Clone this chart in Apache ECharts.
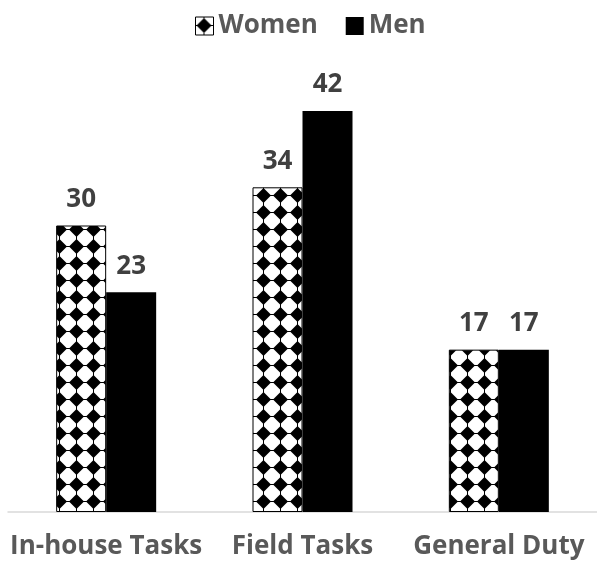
<!DOCTYPE html>
<html>
<head>
<meta charset="utf-8">
<script src="https://cdn.jsdelivr.net/npm/echarts@6/dist/echarts.min.js"></script>
<style>
  html, body { margin: 0; padding: 0; background: #fff; }
  #main { width: 597px; height: 566px; }
</style>
</head>
<body>
<div id="main"></div>
<script>
  var categories = ['In-house Tasks', 'Field Tasks', 'General Duty'];
  var womenValues = [30, 34, 17];
  var menValues = [23, 42, 17];

  // diamond pattern for the Women bars
  function makePattern() {
    var c = document.createElement('canvas');
    c.width = 17; c.height = 17;
    var ctx = c.getContext('2d');
    ctx.fillStyle = '#fff';
    ctx.fillRect(0, 0, 17, 17);
    ctx.fillStyle = '#000';
    ctx.beginPath();
    ctx.moveTo(8.5, 1);
    ctx.lineTo(16, 8.5);
    ctx.lineTo(8.5, 16);
    ctx.lineTo(1, 8.5);
    ctx.closePath();
    ctx.fill();
    // little corner bits so neighbours connect
    ctx.fillRect(0, 8, 17, 1);
    ctx.fillRect(8, 0, 1, 17);
    return c;
  }
  var pattern = { image: makePattern(), repeat: 'repeat' };

  var labelStyle = {
    show: true,
    position: 'top',
    distance: 13,
    color: '#404040',
    fontSize: 26,
    fontWeight: 'bold',
    fontFamily: 'Open Sans'
  };

  var chart = echarts.init(document.getElementById('main'));
  chart.setOption({
    animation: false,
    legend: {
      top: 8,
      left: 190,
      itemWidth: 18,
      itemHeight: 18,
      itemGap: 28,
      textStyle: { color: '#595959', fontSize: 26, fontWeight: 'bold', fontFamily: 'Open Sans' },
      data: [
        { name: 'Women', icon: 'rect', itemStyle: { color: pattern, borderColor: '#000', borderWidth: 1 } },
        { name: 'Men', icon: 'rect' }
      ]
    },
    grid: { left: 8, width: 594, top: 34.5, bottom: 54, containLabel: false },
    xAxis: {
      type: 'category',
      data: categories,
      axisLine: { lineStyle: { color: '#d9d9d9', width: 1.5 } },
      axisTick: { show: false },
      axisLabel: {
        interval: 0,
        color: '#595959',
        fontSize: 26,
        fontWeight: 'bold',
        fontFamily: 'Open Sans',
        margin: 22
      }
    },
    yAxis: {
      type: 'value',
      min: 0,
      max: 50,
      show: false,
      splitLine: { show: false }
    },
    series: [
      {
        name: 'Women',
        type: 'bar',
        data: womenValues,
        barWidth: 50,
        barGap: '0%',
        itemStyle: { color: pattern, borderColor: '#000', borderWidth: 1 },
        label: labelStyle
      },
      {
        name: 'Men',
        type: 'bar',
        data: menValues,
        barWidth: 50,
        itemStyle: { color: '#000' },
        label: labelStyle
      }
    ]
  });
</script>
</body>
</html>
